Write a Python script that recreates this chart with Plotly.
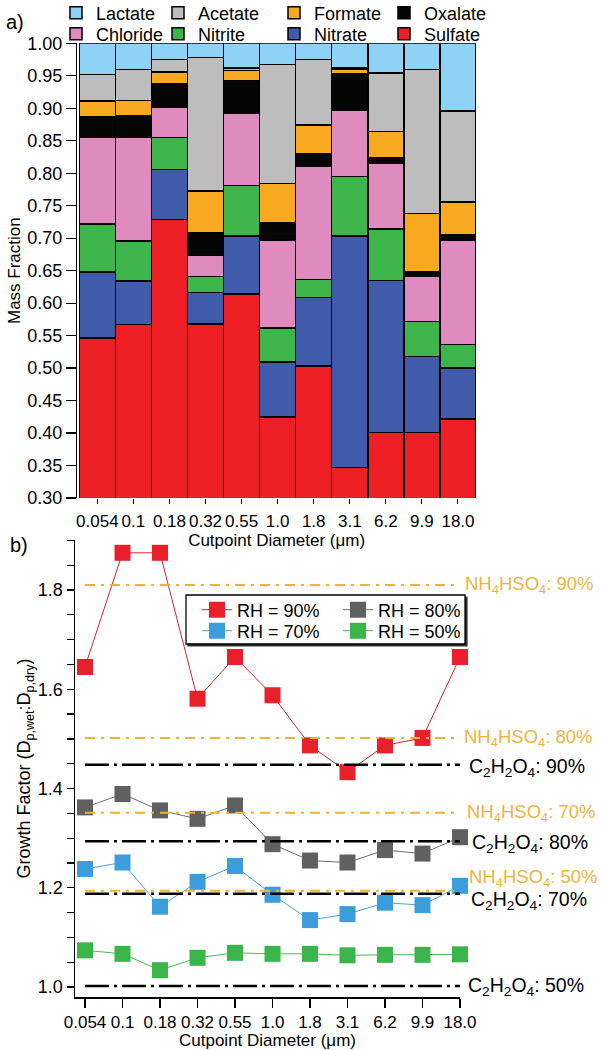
import plotly.graph_objects as go

# ---------------- data ----------------
categories = ["0.054", "0.1", "0.18", "0.32", "0.55", "1.0", "1.8", "3.1", "6.2", "9.9", "18.0"]

# mass fractions (stacked bottom -> top)
sulfate  = [0.546, 0.567, 0.729, 0.568, 0.614, 0.425, 0.503, 0.347, 0.401, 0.401, 0.422]
nitrate  = [0.102, 0.067, 0.077, 0.048, 0.089, 0.084, 0.106, 0.356, 0.234, 0.117, 0.078]
nitrite  = [0.074, 0.062, 0.049, 0.025, 0.078, 0.053, 0.027, 0.092, 0.079, 0.054, 0.036]
chloride = [0.133, 0.159, 0.047, 0.032, 0.112, 0.135, 0.174, 0.102, 0.101, 0.069, 0.161]
oxalate  = [0.032, 0.034, 0.035, 0.035, 0.050, 0.026, 0.020, 0.056, 0.009, 0.007, 0.008]
formate  = [0.024, 0.023, 0.019, 0.065, 0.015, 0.061, 0.044, 0.007, 0.040, 0.090, 0.051]
acetate  = [0.041, 0.048, 0.019, 0.205, 0.004, 0.183, 0.101, 0.002, 0.090, 0.222, 0.140]
lactate  = [0.048, 0.040, 0.025, 0.022, 0.038, 0.033, 0.025, 0.038, 0.046, 0.040, 0.104]

# growth factors
gf_rh90 = [1.645, 1.875, 1.875, 1.581, 1.665, 1.588, 1.487, 1.433, 1.487, 1.502, 1.665]
gf_rh80 = [1.362, 1.389, 1.356, 1.339, 1.366, 1.288, 1.255, 1.251, 1.276, 1.269, 1.302]
gf_rh70 = [1.238, 1.251, 1.162, 1.212, 1.244, 1.186, 1.135, 1.147, 1.170, 1.165, 1.204]
gf_rh50 = [1.074, 1.067, 1.034, 1.059, 1.069, 1.067, 1.067, 1.064, 1.065, 1.065, 1.066]

# reference growth factors
ref_rh = ["90%", "80%", "70%", "50%"]
nh4hso4_gf = [1.810, 1.502, 1.351, 1.194]
c2h2o4_gf = [1.448, 1.294, 1.188, 1.002]

FONT = "Liberation Sans, Arial, sans-serif"
W, H = 601, 1050

fig = go.Figure()

# ---------------- panel a: stacked bars ----------------
species = [
    ("Sulfate", sulfate, "#ED1F24", "legend2", 60),
    ("Nitrate", nitrate, "#3F5BA9", "legend2", 65),
    ("Nitrite", nitrite, "#3DB54A", "legend2", 71),
    ("Chloride", chloride, "#E08BBF", "legend2", 57),
    ("Oxalate", oxalate, "#050505", "legend", 60),
    ("Formate", formate, "#F9A920", "legend", 65),
    ("Acetate", acetate, "#BDBDBD", "legend", 71),
    ("Lactate", lactate, "#8ED3F5", "legend", 57),
]
for name, vals, col, lg, lw in species:
    fig.add_trace(go.Bar(
        x=categories, y=vals, name=name,
        marker=dict(color=col, line=dict(color="black", width=1.5)),
        xaxis="x", yaxis="y", legend=lg, legendwidth=lw,
    ))

# ---------------- panel b: growth factors ----------------
series = [
    ("RH = 90%", gf_rh90, "#E8202A", "#D6262C", "legend3", 96),
    ("RH = 80%", gf_rh80, "#606060", "#707070", "legend3", 96),
    ("RH = 70%", gf_rh70, "#3B9DDC", "#4BA3DD", "legend4", 96),
    ("RH = 50%", gf_rh50, "#3AB54A", "#4CB85A", "legend4", 96),
]
for name, vals, mcol, lcol, lg, lw in series:
    fig.add_trace(go.Scatter(
        x=categories, y=vals, name=name, mode="lines+markers",
        marker=dict(symbol="square", size=16, color=mcol),
        line=dict(color=lcol, width=1),
        xaxis="x2", yaxis="y2", legend=lg, legendwidth=lw, cliponaxis=False,
    ))

span = [categories[0], categories[-1]]
for v in nh4hso4_gf:
    fig.add_trace(go.Scatter(
        x=span, y=[v, v], mode="lines", showlegend=False, hoverinfo="skip",
        line=dict(color="#F5B02E", width=2, dash="10px,6px,3px,6px"),
        xaxis="x2", yaxis="y2",
    ))
for v in c2h2o4_gf:
    fig.add_trace(go.Scatter(
        x=span, y=[v, v], mode="lines", showlegend=False, hoverinfo="skip",
        line=dict(color="black", width=2.5, dash="24px,5px,3px,5px"),
        xaxis="x2", yaxis="y2",
    ))

X_END = 460 / W  # right end of panel b axis (paper fraction)
annotations = []
nh_shift = [(3, 0), (2, 0), (5, 0), (7, 13)]
c_shift = [(7, -3), (10, -2), (9, -7), (6, 0)]
for rh, v, (dx, dy) in zip(ref_rh, nh4hso4_gf, nh_shift):
    annotations.append(dict(
        x=X_END, y=v, xref="paper", yref="y2",
        text="NH<sub>4</sub>HSO<sub>4</sub>: " + rh, showarrow=False,
        xanchor="left", yanchor="middle", xshift=dx, yshift=dy,
        font=dict(family=FONT, size=18.5, color="#F0B33E"),
    ))
for rh, v, (dx, dy) in zip(ref_rh, c2h2o4_gf, c_shift):
    annotations.append(dict(
        x=X_END, y=v, xref="paper", yref="y2",
        text="C<sub>2</sub>H<sub>2</sub>O<sub>4</sub>: " + rh, showarrow=False,
        xanchor="left", yanchor="middle", xshift=dx, yshift=dy,
        font=dict(family=FONT, size=19.5, color="black"),
    ))
annotations.append(dict(x=4 / W, y=1 - 22 / H, xref="paper", yref="paper",
                        text="a)", showarrow=False, xanchor="left", yanchor="middle",
                        font=dict(family=FONT, size=20, color="black")))
annotations.append(dict(x=8 / W, y=1 - 545 / H, xref="paper", yref="paper",
                        text="b)", showarrow=False, xanchor="left", yanchor="middle",
                        font=dict(family=FONT, size=20, color="black")))

shapes = [
    dict(type="rect", xref="paper", yref="paper", layer="above",
         x0=188 / W, x1=467 / W, y0=1 - 646 / H, y1=1 - 597 / H,
         line=dict(color="#333", width=1.2), fillcolor="#333"),
    dict(type="rect", xref="paper", yref="paper", layer="above",
         x0=186 / W, x1=465 / W, y0=1 - 644 / H, y1=1 - 595 / H,
         line=dict(color="black", width=1.3), fillcolor="white"),
]

legend_common = dict(orientation="h", bgcolor="rgba(0,0,0,0)", borderwidth=0,
                     xanchor="left", yanchor="middle",
                     font=dict(family=FONT, size=18, color="black"))

fig.update_layout(
    width=W, height=H,
    margin=dict(l=0, r=0, t=0, b=0, autoexpand=False),
    paper_bgcolor="white", plot_bgcolor="white",
    font=dict(family=FONT, size=17, color="black"),
    barmode="stack", bargap=0,
    showlegend=True,
    legend=dict(x=56 / W, y=1 - 13 / H, traceorder="reversed", **legend_common),
    legend2=dict(x=56 / W, y=1 - 34 / H, traceorder="reversed", **legend_common),
    legend3=dict(x=197 / W, y=1 - 610 / H, traceorder="normal", **legend_common),
    legend4=dict(x=197 / W, y=1 - 631 / H, traceorder="normal", **legend_common),
    xaxis=dict(
        domain=[77.3 / W, 476 / W], type="category", range=[-0.555, 10.5],
        showline=False, ticks="outside", ticklen=5, tickwidth=1, tickcolor="black",
        tickfont=dict(family=FONT, size=17), ticklabelstandoff=3,
        title=dict(text="Cutpoint Diameter (μm)", font=dict(family=FONT, size=17), standoff=2),
        showgrid=False, zeroline=False, fixedrange=True,
    ),
    yaxis=dict(
        domain=[1 - 498 / H, 1 - 43.3 / H], range=[0.30, 1.00], dtick=0.05, tick0=0,
        tickformat=".2f", showline=True, linecolor="black", linewidth=1.3,
        ticks="outside", ticklen=10, tickwidth=1.2, tickcolor="black",
        tickfont=dict(family=FONT, size=18),
        title=dict(text="Mass Fraction", font=dict(family=FONT, size=17), standoff=2),
        showgrid=False, zeroline=False, fixedrange=True,
    ),
    xaxis2=dict(
        domain=[75 / W, 460 / W], type="category", range=[-0.267, 10.0], anchor="y2",
        showline=True, linecolor="black", linewidth=1.5,
        ticks="outside", ticklen=9, tickwidth=1.2, tickcolor="black",
        tickfont=dict(family=FONT, size=17),
        title=dict(text="Cutpoint Diameter (μm)", font=dict(family=FONT, size=17), standoff=2),
        showgrid=False, zeroline=False, fixedrange=True,
    ),
    yaxis2=dict(
        domain=[1 - 997 / H, 1 - 540 / H], range=[0.98, 1.9008], dtick=0.2, tick0=0,
        tickformat=".1f", anchor="x2",
        showline=True, linecolor="black", linewidth=1.5,
        ticks="outside", ticklen=7, tickwidth=1.2, tickcolor="black",
        minor=dict(dtick=0.05, ticks="outside", ticklen=7, tickwidth=1.2, tickcolor="black"),
        tickfont=dict(family=FONT, size=18),
        title=dict(text="Growth Factor (D<sub>p,wet</sub>:D<sub>p,dry</sub>)",
                   font=dict(family=FONT, size=18), standoff=2),
        showgrid=False, zeroline=False, fixedrange=True,
    ),
    annotations=annotations,
    shapes=shapes,
)

fig.write_html("out.html",
               config={"displayModeBar": False, "staticPlot": True},
               post_script="document.body.style.margin='0';document.body.style.padding='0';")
